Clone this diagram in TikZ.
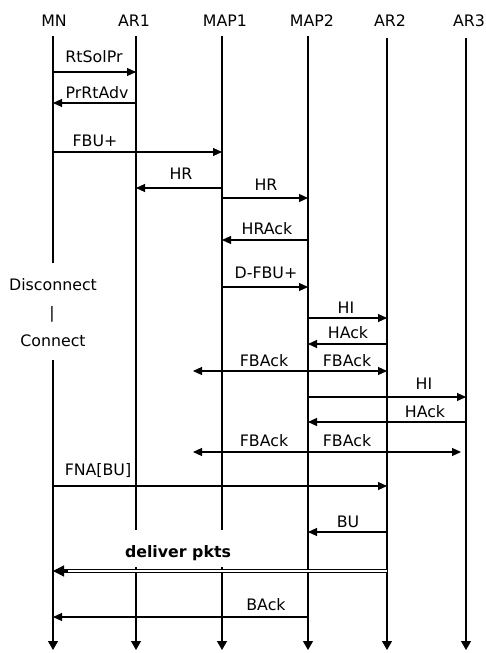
\documentclass[tikz,border=0pt]{standalone}
\usepackage{fontspec}
\setmainfont{DejaVu Sans}
\usetikzlibrary{arrows.meta}
\begin{document}
\begin{tikzpicture}[x=1pt,y=-1pt,
  lbl/.style={font=\fontsize{15.8}{18}\selectfont, anchor=base, inner sep=0pt},
  life/.style={line width=1.1pt},
  lifeend/.style={line width=1.1pt,-{Triangle[length=9pt,width=10pt]}},
  msg/.style={line width=1.1pt,-{Triangle[length=9pt,width=8pt]}},
  bmsg/.style={line width=1.1pt,{Triangle[length=9pt,width=8pt]}-{Triangle[length=9pt,width=8pt]}},
  deliver/.style={line width=0.9pt,double distance=2.5pt,shorten >=9pt},
  delivertip/.style={line width=1.1pt,-{Triangle[length=11pt,width=11pt]}},
]
\useasboundingbox (0,0) rectangle (486,653);
% headers
\node[lbl] (mn)   at (54,26)  {MN};
\node[lbl] (ar1)  at (134,26) {AR1};
\node[lbl] (map1) at (225,26) {MAP1};
\node[lbl] (map2) at (312,26) {MAP2};
\node[lbl] (ar2)  at (390,26) {AR2};
\node[lbl] (ar3)  at (469,26) {AR3};
% lifeline coordinates
\coordinate (mnT) at (53,36);   \coordinate (mnB) at (53,650);
\coordinate (ar1T) at (136,36); \coordinate (ar1B) at (136,650);
\coordinate (map1T) at (222,36);\coordinate (map1B) at (222,650);
\coordinate (map2T) at (308,36);\coordinate (map2B) at (308,650);
\coordinate (ar2T) at (387,38); \coordinate (ar2B) at (387,650);
\coordinate (ar3T) at (466,38); \coordinate (ar3B) at (466,650);
\coordinate (mnG1) at (53,263); \coordinate (mnG2) at (53,360);
\coordinate (ar1G1) at (136,530); \coordinate (ar1G2) at (136,567);
\coordinate (map1G1) at (222,530); \coordinate (map1G2) at (222,567);
% lifelines
\draw[life] (mnT) -- (mnG1);
\draw[lifeend] (mnG2) -- (mnB);
\draw[life] (ar1T) -- (ar1G1);
\draw[lifeend] (ar1G2) -- (ar1B);
\draw[life] (map1T) -- (map1G1);
\draw[lifeend] (map1G2) -- (map1B);
\draw[lifeend] (map2T) -- (map2B);
\draw[lifeend] (ar2T) -- (ar2B);
\draw[lifeend] (ar3T) -- (ar3B);
% disconnect / connect
\node[lbl] (disc) at (53,290) {Disconnect};
\node[lbl] (bar)  at (52,318) {|};
\node[lbl] (conn) at (53,346) {Connect};
% messages
\draw[msg] (mnT |- 0,72) -- (ar1T |- 0,72);
\node[lbl] (m1) at (94,62) {RtSolPr};
\draw[msg] (ar1T |- 0,103) -- (mnT |- 0,103);
\node[lbl] (m2) at (97,98) {PrRtAdv};
\draw[msg] (mnT |- 0,152) -- (map1T |- 0,152);
\node[lbl] (m3) at (95,146) {FBU+};
\draw[msg] (map1T |- 0,188) -- (ar1T |- 0,188);
\node[lbl] (m4) at (181,179) {HR};
\draw[msg] (map1T |- 0,198) -- (map2T |- 0,198);
\node[lbl] (m5) at (266,190) {HR};
\draw[msg] (map2T |- 0,240) -- (map1T |- 0,240);
\node[lbl] (m6) at (267,234) {HRAck};
\draw[msg] (map1T |- 0,287) -- (map2T |- 0,287);
\node[lbl] (m7) at (266,278) {D-FBU+};
\draw[msg] (map2T |- 0,318) -- (ar2T |- 0,318);
\node[lbl] (m8) at (346,313) {HI};
\draw[msg] (ar2T |- 0,344) -- (map2T |- 0,344);
\node[lbl] (m9) at (348,338) {HAck};
\coordinate (fb1L) at (193,371);
\draw[bmsg] (fb1L) -- (ar2T |- fb1L);
\node[lbl] (m10a) at (264,366) {FBAck};
\node[lbl] (m10b) at (347,366) {FBAck};
\draw[msg] (map2T |- 0,397) -- (ar3T |- 0,397);
\node[lbl] (m11) at (424,389) {HI};
\draw[msg] (ar3T |- 0,422) -- (map2T |- 0,422);
\node[lbl] (m12) at (425,417) {HAck};
\coordinate (fb2L) at (193,452);
\coordinate (fb2R) at (461,452);
\draw[bmsg] (fb2L) -- (fb2R);
\node[lbl] (m13a) at (264,446) {FBAck};
\node[lbl] (m13b) at (347,446) {FBAck};
\draw[msg] (mnT |- 0,486) -- (ar2T |- 0,486);
\node[lbl] (m14) at (98,475) {FNA[BU]};
\draw[msg] (ar2T |- 0,532) -- (map2T |- 0,532);
\node[lbl] (m15) at (348,527) {BU};
\coordinate (dlvR) at (ar2T |- 0,571);
\coordinate (dlvL) at (mnT |- 0,571);
\coordinate (dlvB) at (68,571);
\draw[deliver] (dlvR) -- (dlvL);
\draw[delivertip] (dlvB) -- (dlvL);
\node[lbl,font=\fontsize{15.8}{18}\selectfont\bfseries] (m16) at (178,557) {deliver pkts};
\draw[msg] (map2T |- 0,617) -- (mnT |- 0,617);
\node[lbl] (m17) at (266,610) {BAck};
\end{tikzpicture}
\end{document}
